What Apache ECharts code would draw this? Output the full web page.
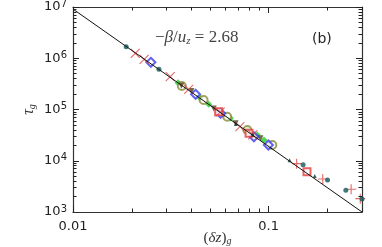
<!DOCTYPE html>
<html><head><meta charset="utf-8">
<script src="https://cdn.jsdelivr.net/npm/echarts@6/dist/echarts.min.js"></script>
<style>html,body{margin:0;padding:0;background:#fff}#c{width:382px;height:247px}</style>
</head><body><div id="c"></div>
<script>
// ---- axis ticks ----
const xMajorTicks = [0.01, 0.1];
const xTickLabels = ['0.01', '0.1'];
const xMinorTicks = [0.02,0.03,0.04,0.05,0.06,0.07,0.08,0.09,0.2,0.3];
const yMajorTicks = [1e3, 1e4, 1e5, 1e6, 1e7];
const yTickExponents = ['3', '4', '5', '6', '7'];
const yMinorTicks = [2e3,3e3,4e3,5e3,6e3,7e3,8e3,9e3,2e4,3e4,4e4,5e4,6e4,7e4,8e4,9e4,
                     2e5,3e5,4e5,5e5,6e5,7e5,8e5,9e5,2e6,3e6,4e6,5e6,6e6,7e6,8e6,9e6];
const xRange = [0.01, 0.3];
const yRange = [1e3, 1e7];

// ---- fit line ----
const fitX = [0.01, 0.3];
const fitY = [9.1e6, 1000];

// ---- data series ----
const tealX = [0.0187, 0.0275, 0.150, 0.200, 0.248, 0.300];
const tealY = [1.68e6, 6.1e5, 8400, 4200, 2650, 1800];
const redCrossX = [0.0208, 0.0231, 0.0314, 0.039, 0.0713, 0.0565, 0.083];
const redCrossY = [1.25e6, 9.5e5, 4.37e5, 2.48e5, 4.62e4, 8.9e4, 3.2e4];
const redPlusX = [0.139, 0.189, 0.264, 0.294];
const redPlusY = [8770, 4400, 2770, 1820];
const redSquareX = [0.157, 0.0794, 0.0555];
const redSquareY = [6120, 3.44e4, 9.0e4];
const blackTriX = [0.128, 0.172, 0.068, 0.083];
const blackTriY = [10200, 5040, 5.2e4, 3.2e4];
const blueDiamondX = [0.025, 0.0423, 0.0568, 0.0841, 0.0997];
const blueDiamondY = [8.34e5, 1.98e5, 8.43e4, 2.94e4, 2.03e4];
const greenX = [0.0344, 0.0448, 0.0494, 0.0638, 0.0783, 0.0875, 0.0946, 0.0595];
const greenY = [3.33e5, 1.66e5, 1.26e5, 6.73e4, 4.11e4, 3.18e4, 2.54e4, 7.6e4];
const oliveCircleX = [0.036, 0.0465, 0.0614, 0.0778, 0.1044];
const oliveCircleY = [2.88e5, 1.53e5, 7.24e4, 3.98e4, 2.03e4];
const darkTriX = [0.0403, 0.0524, 0.0678, 0.0908, 0.0358];
const darkTriY = [2.3e5, 1.05e5, 5.38e4, 2.76e4, 2.9e5];

const L = Math.log10;
const pts = (xs, ys) => xs.map((x, i) => [L(x), L(ys[i])]);
const axisColor = '#333';
const tickColor = '#222';
const findIdx = (arr, v) => arr.findIndex(t => Math.abs(L(t) - v) < 1e-6);
const X0 = L(xRange[0]), X1 = L(xRange[1]), Y0 = L(yRange[0]), Y1 = L(yRange[1]);

function xAx(pos, withLabel) {
  return {
    type: 'value', position: pos, min: X0, max: X1, interval: 1,
    splitLine: {show: false},
    axisLine: {show: true, onZero: false, lineStyle: {color: axisColor, width: 1.2}},
    axisTick: {show: false},
    axisLabel: withLabel ? {
      show: true, margin: 8, showMaxLabel: false,
      fontFamily: 'DejaVu Sans', fontSize: 13, color: '#222',
      formatter: v => { const i = findIdx(xMajorTicks, v); return i >= 0 ? xTickLabels[i] : ''; }
    } : {show: false},
    name: withLabel ? '{p|(}{i|δz}{p|)}{s|g}' : '',
    nameLocation: 'middle', nameGap: 18, nameMoveOverlap: false,
    nameTextStyle: {rich: {
      p: {fontFamily: 'Liberation Serif', fontSize: 15, color: '#333'},
      i: {fontFamily: 'Liberation Serif', fontStyle: 'italic', fontSize: 15, color: '#333'},
      s: {fontFamily: 'Liberation Serif', fontStyle: 'italic', fontSize: 10, color: '#333', verticalAlign: 'bottom', padding: [6,0,0,0]}
    }}
  };
}
function yAx(pos, withLabel) {
  return {
    type: 'value', position: pos, min: Y0, max: Y1, interval: 1,
    splitLine: {show: false},
    axisLine: {show: true, onZero: false, lineStyle: {color: axisColor, width: 1.2}},
    axisTick: {show: false},
    axisLabel: withLabel ? {
      show: true, margin: 6,
      formatter: v => { const i = findIdx(yMajorTicks, v); return i >= 0 ? '{b|10}{e|' + yTickExponents[i] + '}' : ''; },
      rich: {
        b: {fontFamily: 'DejaVu Sans', fontSize: 13, color: '#222', lineHeight: 16},
        e: {fontFamily: 'DejaVu Sans', fontSize: 10, color: '#222', verticalAlign: 'top', lineHeight: 16}
      }
    } : {show: false},
    name: withLabel ? '{i|τ}{s|g}' : '',
    nameLocation: 'middle', nameGap: 36, nameRotate: 90, nameMoveOverlap: false,
    nameTextStyle: {rich: {
      i: {fontFamily: 'Liberation Serif', fontStyle: 'italic', fontSize: 16, color: '#333'},
      s: {fontFamily: 'Liberation Serif', fontStyle: 'italic', fontSize: 10, color: '#333', verticalAlign: 'bottom', padding: [6,0,0,0]}
    }}
  };
}

// tick marks drawn as short line series through the axes' own scale, inward on all four sides
function tickLines(values, isX, lenFrac) {
  const out = [];
  values.forEach(v => {
    const lv = L(v);
    if (isX) {
      const d = (Y1 - Y0) * lenFrac;
      out.push([[lv, Y0], [lv, Y0 + d]]);
      out.push([[lv, Y1], [lv, Y1 - d]]);
    } else {
      const d = (X1 - X0) * lenFrac;
      out.push([[X0, lv], [X0 + d, lv]]);
      out.push([[X1, lv], [X1 - d, lv]]);
    }
  });
  return out;
}
// plot is 289 px wide and 205 px high: tick length in px -> fraction of the axis span
const tickSeries = (values, isX, px) => ({
  type: 'lines', coordinateSystem: 'cartesian2d', silent: true, z: 10,
  data: tickLines(values, isX, px / (isX ? 205 : 289)).map(c => ({coords: c})),
  lineStyle: {color: tickColor, width: 1, opacity: 1}
});

const crossPath = 'path://M0,0L10,10M10,0L0,10';
const plusPath = 'path://M0,5L10,5M5,0L5,10';

const chart = echarts.init(document.getElementById('c'), null, {renderer: 'canvas'});
chart.setOption({
  animation: false,
  backgroundColor: '#fff',
  grid: {left: 73, right: 20, top: 7, bottom: 35, outerBoundsMode: 'none', containLabel: false},
  xAxis: [xAx('bottom', true), xAx('top', false)],
  yAxis: [yAx('left', true), yAx('right', false)],
  graphic: [
    {type: 'text', left: 155, top: 29, style: {
      text: '−{i|β}/{i|u}{s|z} = 2.68',
      font: '17px "Liberation Serif"', fill: '#444',
      rich: {
        i: {fontFamily: 'Liberation Serif', fontStyle: 'italic', fontSize: 17, fill: '#444', color: '#444'},
        s: {fontFamily: 'Liberation Serif', fontStyle: 'italic', fontSize: 11, fill: '#444', color: '#444', verticalAlign: 'bottom', padding: [7,0,0,0]}
      }
    }},
    {type: 'text', left: 312, top: 32, style: {text: '(b)', font: '14px "DejaVu Sans"', fill: '#222'}}
  ],
  series: [
    tickSeries(xMajorTicks, true, 6),
    tickSeries(xMinorTicks, true, 3.5),
    tickSeries(yMajorTicks, false, 6),
    tickSeries(yMinorTicks, false, 3.5),
    {type: 'scatter', name: 'greenFilled', data: pts(greenX, greenY), symbol: 'diamond', symbolSize: 7,
     itemStyle: {color: '#25cc25'}},
    {type: 'scatter', name: 'oliveOpen', data: pts(oliveCircleX, oliveCircleY), symbol: 'emptyCircle', symbolSize: 8,
     itemStyle: {color: '#8a8a3a', borderWidth: 1}},
    {type: 'scatter', name: 'darkTri', data: pts(darkTriX, darkTriY), symbol: 'triangle', symbolSize: 6, symbolRotate: 180,
     itemStyle: {color: '#4a4418'}},
    {type: 'scatter', name: 'blueDiamond', data: pts(blueDiamondX, blueDiamondY), symbol: 'emptyDiamond', symbolSize: 9,
     itemStyle: {color: '#3b3bea', borderWidth: 1}},
    {type: 'scatter', name: 'redSquare', data: pts(redSquareX, redSquareY), symbol: 'emptyRect', symbolSize: 7,
     itemStyle: {color: '#e23c3c', borderWidth: 1}},
    {type: 'scatter', name: 'redCross', data: pts(redCrossX, redCrossY), symbol: crossPath, symbolSize: 9,
     itemStyle: {color: 'none', borderColor: '#e04444', borderWidth: 1.1}},
    {type: 'scatter', name: 'redPlus', data: pts(redPlusX, redPlusY), symbol: plusPath, symbolSize: 10,
     itemStyle: {color: 'none', borderColor: '#e04444', borderWidth: 1.1}},
    {type: 'scatter', name: 'teal', data: pts(tealX, tealY), symbol: 'circle', symbolSize: 5,
     itemStyle: {color: '#0f5a5a'}},
    {type: 'scatter', name: 'blackTri', data: pts(blackTriX, blackTriY), symbol: 'triangle', symbolSize: 4,
     itemStyle: {color: '#123838'}},
    {type: 'line', name: 'fit', data: pts(fitX, fitY), symbol: 'none', z: 5,
     lineStyle: {color: '#111', width: 1}}
  ]
});
</script>
</body></html>
